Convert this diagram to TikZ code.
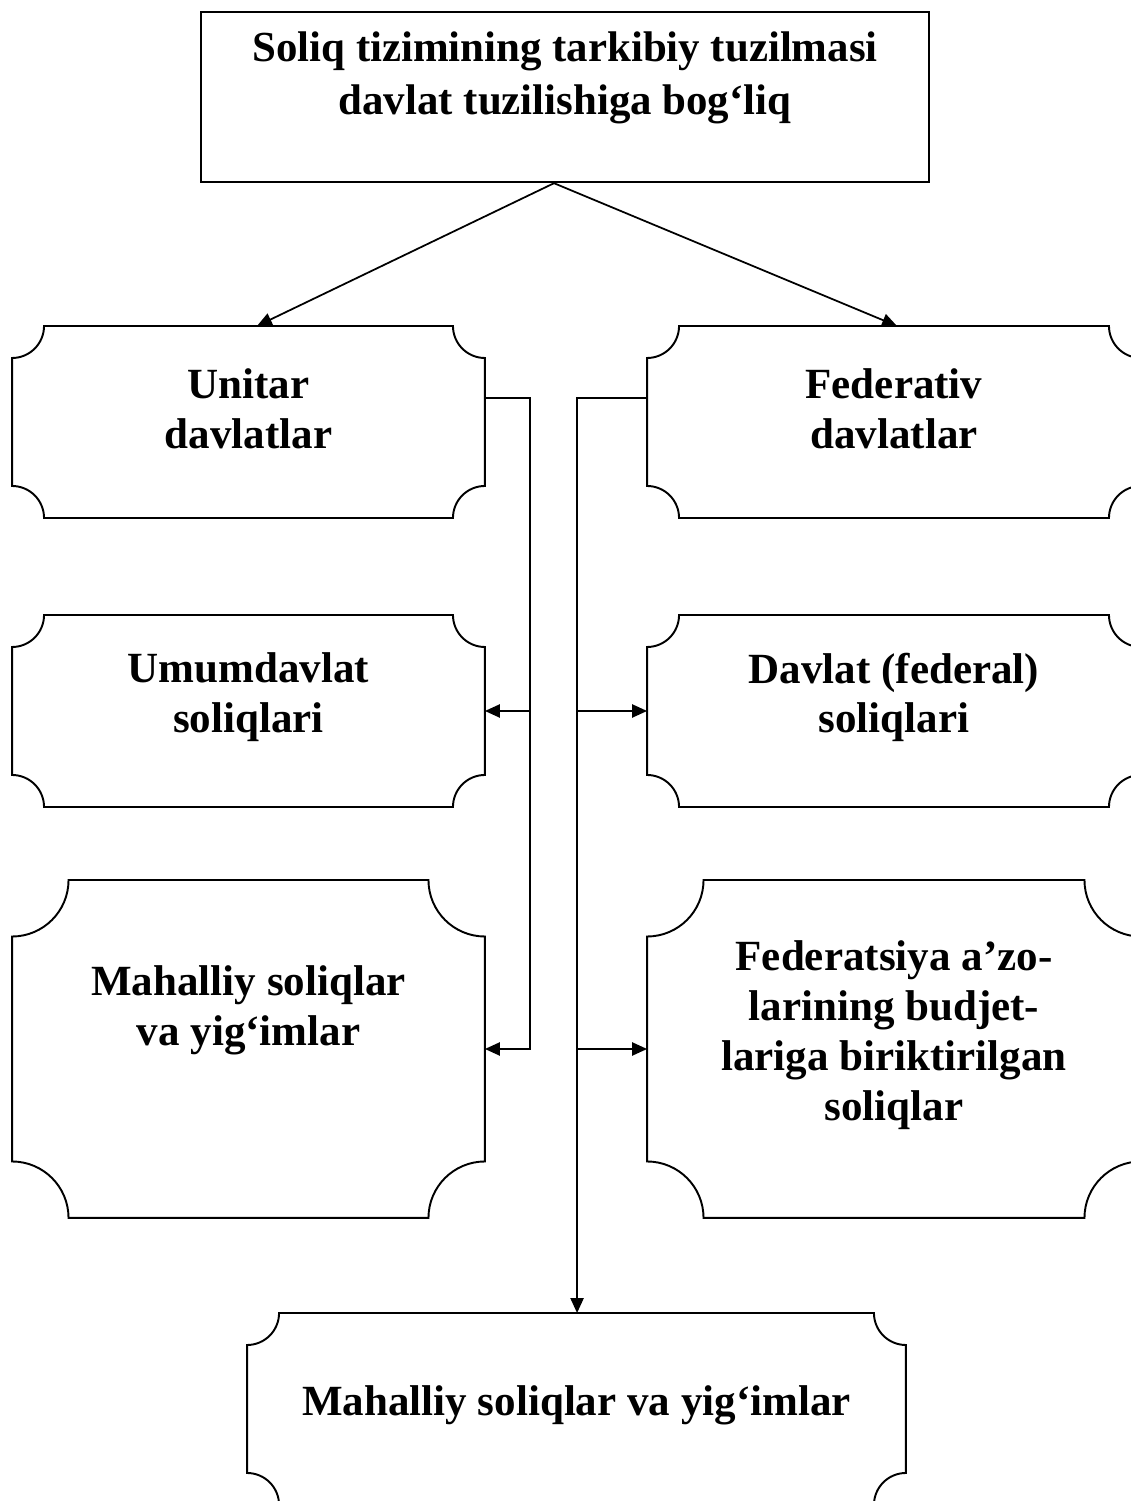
\documentclass[tikz,border=0pt]{standalone}
\usepackage{fontspec}
\setmainfont{Liberation Serif}
\usetikzlibrary{
arrows.meta,
positioning,
calc
}

\begin{document}
\begin{tikzpicture}[
x=0.02cm,y=0.02cm,
box/.style={
draw=none,
inner sep=0pt,
outer sep=0pt
},
headbox/.style={
draw,
line width=1.4pt,
inner sep=0pt,
minimum width=14.56cm,
minimum height=3.4cm
},
frame/.style={line width=1.1pt},
txt/.style={
align=center,
font=\bfseries\fontsize{24.5}{28.35}\selectfont
},
arrow/.style={-{Triangle[length=8.5pt,width=7.5pt]},line width=1pt},
line/.style={line width=1pt}
]

\useasboundingbox (0,0) rectangle (1131,1501);

% boxes
\node[headbox] (head) at (565,1404) {};
\node[box,minimum width=9.46cm,minimum height=3.84cm] (unitar) at (248.5,1079) {};
\node[box,minimum width=9.88cm,minimum height=3.84cm] (federativ) at (894,1079) {};
\node[box,minimum width=9.46cm,minimum height=3.84cm] (umum) at (248.5,790) {};
\node[box,minimum width=9.88cm,minimum height=3.84cm] (federal) at (894,790) {};
\node[box,minimum width=9.46cm,minimum height=6.76cm] (mahalliy) at (248.5,452) {};
\node[box,minimum width=9.88cm,minimum height=6.76cm] (azo) at (894,452) {};
\node[box,minimum width=13.18cm,minimum height=3.84cm] (local) at (576.5,92) {};

% scooped corners
\foreach \n/\r in {unitar/0.64cm,federativ/0.64cm,umum/0.64cm,federal/0.64cm,
  mahalliy/1.13cm,azo/1.13cm,local/0.64cm}
  \draw[frame] ([xshift=\r]\n.north west) -- ([xshift=-\r]\n.north east)
    arc[start angle=180,end angle=270,radius=\r]
    -- ([yshift=\r]\n.south east)
    arc[start angle=90,end angle=180,radius=\r]
    -- ([xshift=\r]\n.south west)
    arc[start angle=0,end angle=90,radius=\r]
    -- ([yshift=-\r]\n.north west)
    arc[start angle=270,end angle=360,radius=\r]
    -- cycle;

% texts
\node[txt,font=\bfseries\fontsize{24.4}{30}\selectfont] (headT) at ([yshift=0.38cm]head.center)
  {Soliq tizimining tarkibiy tuzilmasi\\davlat tuzilishiga bog‘liq};
\node[txt] (unitarT) at ([yshift=0.26cm]unitar.center) {Unitar\\davlatlar};
\node[txt] (federativT) at ([yshift=0.26cm]federativ.center) {Federativ\\davlatlar};
\node[txt] (umumT) at ([yshift=0.27cm]umum.center) {Umumdavlat\\soliqlari};
\node[txt] (federalT) at ([yshift=0.27cm]federal.center) {Davlat (federal)\\soliqlari};
\node[txt] (mahalliyT) at ([yshift=0.78cm]mahalliy.center) {Mahalliy soliqlar\\va yig‘imlar};
\node[txt] (azoT) at ([yshift=0.28cm]azo.center)
  {Federatsiya a’zo-\\larining budjet-\\lariga biriktirilgan\\soliqlar};
\node[txt] (localT) at ([yshift=0.08cm]local.center) {Mahalliy soliqlar va yig‘imlar};

% connectors
\coordinate (apex) at ([xshift=-0.22cm]head.south);
\draw[arrow] (apex) -- ([xshift=0.17cm]unitar.north);
\draw[arrow] (apex) -- ([xshift=0.06cm]federativ.north);

\coordinate (lstart) at ([yshift=0.48cm]unitar.east);
\coordinate (lbus) at ([xshift=0.9cm]lstart);
\draw[arrow] (lstart) -- (lbus) |- (mahalliy.east);
\draw[arrow] (lbus |- umum.east) -- (umum.east);

\coordinate (rstart) at ([yshift=0.48cm]federativ.west);
\coordinate (rbus) at ([xshift=-1.4cm]rstart);
\draw[arrow] (rstart) -- (rbus) -- (rbus |- local.north);
\draw[arrow] (rbus |- federal.west) -- (federal.west);
\draw[arrow] (rbus |- azo.west) -- (azo.west);

\end{tikzpicture}
\end{document}
